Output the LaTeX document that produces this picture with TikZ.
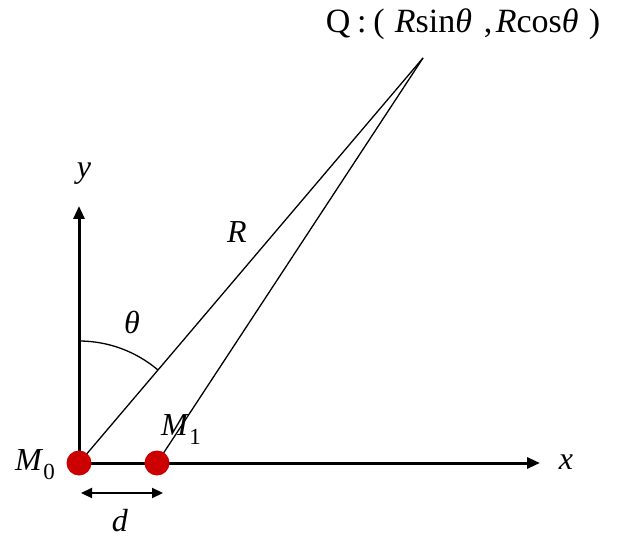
\documentclass[tikz,border=0pt]{standalone}
\usepackage{fontspec}
\setmainfont{Liberation Serif}
\usetikzlibrary{arrows.meta}
\newcommand{\subsc}[1]{\raisebox{-0.28em}{\fontsize{23}{23}\selectfont #1}}
\begin{document}
\begin{tikzpicture}[x=1pt,y=-1pt, font=\fontsize{32}{38}\selectfont,
 axis/.style={line width=3pt, -{Triangle[length=13pt,width=11pt]}},
 thinline/.style={line width=1.3pt},
 mass/.style={circle, fill=red!80!black, minimum size=25pt, inner sep=0pt},
 lbl/.style={inner sep=0pt},
 darrow/.style={line width=2.2pt, {Triangle[length=11pt,width=10pt]}-{Triangle[length=11pt,width=10pt]}}]
\useasboundingbox (0,0) rectangle (619,540);
\coordinate (O) at (79,463);
\coordinate (M1c) at (157,463);
\coordinate (Q) at (423,58);
\coordinate (X) at (540,463);
\coordinate (Y) at (79,206);
\coordinate (dL) at (81,493);
\coordinate (dR) at (163,493);
\draw[axis] (O) -- (X);
\draw[axis] (O) -- (Y);
\draw[thinline] (O) -- (Q);
\draw[thinline] (M1c) -- (Q);
\draw[thinline] (79,341) arc[start angle=-90, end angle=-49.66, radius=122];
\node[mass] (M0) at (O) {};
\node[mass] (M1) at (M1c) {};
\draw[darrow] (dL) -- (dR);
\node[lbl] (ly) at (84,174) {\textit{y}};
\node[lbl] (lx) at (566,462) {\textit{x}};
\node[lbl] (lt) at (132,322) {\textit{θ}};
\node[lbl] (lR) at (237,232) {\textit{R}};
\node[lbl] (lM0) at (35,465) {\textit{M}\subsc{0}};
\node[lbl] (lM1) at (181,430) {\textit{M}\subsc{1}};
\node[lbl] (ld) at (120,521) {\textit{d}};
\node[lbl, font=\fontsize{34}{40}\selectfont] (lQ) at (463,24) {Q\hspace{0.2em}:\hspace{0.2em}(\hspace{0.3em}\textit{R}sin\textit{θ}\hspace{0.35em},\hspace{0.1em}\textit{R}cos\textit{θ}\hspace{0.3em})};
\end{tikzpicture}
\end{document}
